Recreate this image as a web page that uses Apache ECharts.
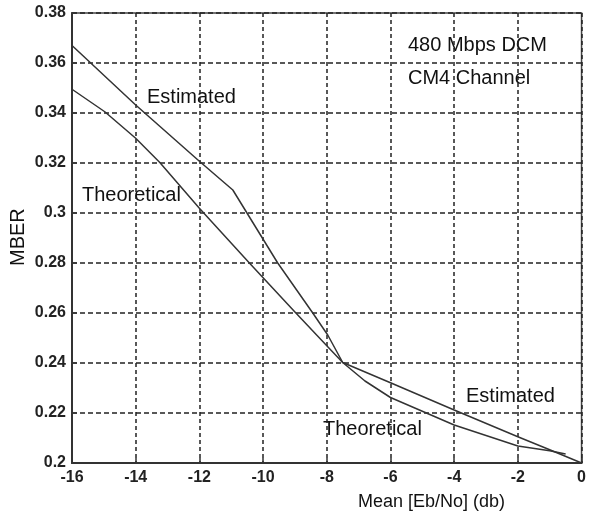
<!DOCTYPE html>
<html>
<head>
<meta charset="utf-8">
<script src="https://cdn.jsdelivr.net/npm/echarts@6/dist/echarts.min.js"></script>
<style>
html,body{margin:0;padding:0;background:#fff;}
#chart{width:589px;height:516px;}
</style>
</head>
<body>
<div id="chart"></div>
<script>
const estX = [-16, -14, -12, -10.95, -9.54, -8.44, -7.97, -7.5, -6, -4, -2, -1, 0];
const estY = [0.367, 0.3432, 0.3207, 0.3092, 0.28, 0.26, 0.2512, 0.2402, 0.2321, 0.2212, 0.2105, 0.2053, 0.2];
const theoX = [-16, -14.97, -14, -13.25, -12, -10.43, -8.97, -7.97, -7.5, -6.8, -6, -4, -2, -1, -0.5];
const theoY = [0.3495, 0.3405, 0.3299, 0.3203, 0.3019, 0.28, 0.26, 0.2465, 0.2402, 0.2328, 0.2262, 0.2152, 0.2068, 0.2049, 0.2036];
const xTicks = {min: -16, max: 0, interval: 2};
const yTicks = {min: 0.2, max: 0.38, interval: 0.02};

const FONT = 'Arial, "Liberation Sans", sans-serif';
const pairs = (xs, ys) => xs.map((x, i) => [x, ys[i]]);
const chart = echarts.init(document.getElementById('chart'));
const txt = (text, left, y, size, rot) => ({
  type: 'text', left: left, top: y - size / 2 - 1, rotation: rot || 0,
  style: {text: text, font: size + 'px ' + FONT, fill: '#111'}
});
chart.setOption({
  animation: false,
  backgroundColor: '#fff',
  grid: {left: 72, right: 6, top: 13, bottom: 53, show: true, borderColor: '#444', borderWidth: 1.5, backgroundColor: 'transparent'},
  xAxis: {
    type: 'value', min: xTicks.min, max: xTicks.max, interval: xTicks.interval,
    axisLine: {show: true, onZero: false, lineStyle: {color: '#333', width: 2}},
    axisTick: {show: true, inside: true, length: 5, lineStyle: {color: '#333', width: 1.5}},
    axisLabel: {fontSize: 16, fontWeight: 'bold', color: '#222', fontFamily: FONT, margin: 7},
    splitLine: {show: true, lineStyle: {color: '#222', width: 1.5, type: [4, 3]}}
  },
  yAxis: {
    type: 'value', min: yTicks.min, max: yTicks.max, interval: yTicks.interval,
    axisLine: {show: true, onZero: false, lineStyle: {color: '#333', width: 2}},
    axisTick: {show: true, inside: true, length: 5, lineStyle: {color: '#333', width: 1.5}},
    axisLabel: {fontSize: 16, fontWeight: 'bold', color: '#222', fontFamily: FONT, margin: 6},
    splitLine: {show: true, lineStyle: {color: '#222', width: 1.5, type: [5, 3]}}
  },
  series: [
    {name: 'Estimated', type: 'line', data: pairs(estX, estY), showSymbol: false,
     lineStyle: {color: '#333', width: 1.5}},
    {name: 'Theoretical', type: 'line', data: pairs(theoX, theoY), showSymbol: false,
     lineStyle: {color: '#333', width: 1.5}}
  ],
  graphic: [
    txt('480 Mbps DCM', 408, 46, 20),
    txt('CM4 Channel', 408, 79, 20),
    txt('Estimated', 147, 98, 20),
    txt('Theoretical', 82, 196, 20),
    txt('Estimated', 466, 397, 20),
    txt('Theoretical', 323, 430, 20),
    txt('Mean [Eb/No] (db)', 358, 503, 18),
    {type: 'text', x: 8, y: 266, rotation: Math.PI / 2,
     style: {text: 'MBER', font: '20px ' + FONT, fill: '#111'}}
  ]
});
</script>
</body>
</html>
